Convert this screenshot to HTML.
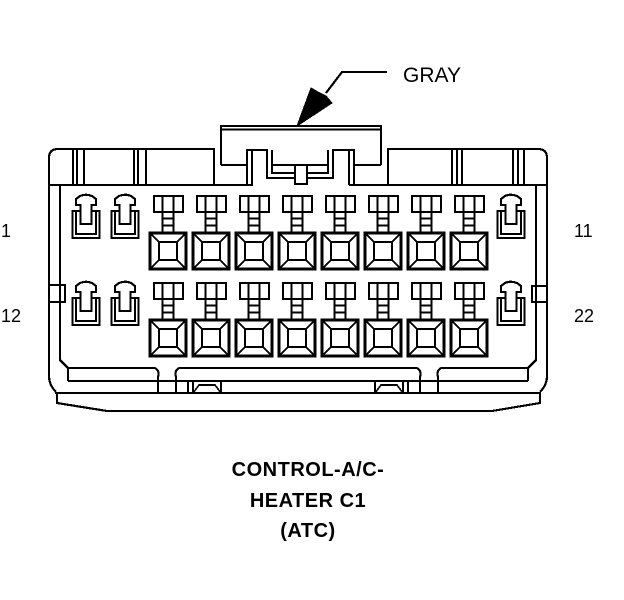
<!DOCTYPE html>
<html><head><meta charset="utf-8"><style>
html,body{margin:0;padding:0;background:#fff;}
svg{display:block;}
text{font-family:"Liberation Sans",Arial,sans-serif;fill:#000;}
</style></head><body>
<svg width="624" height="600" viewBox="0 0 624 600" xmlns="http://www.w3.org/2000/svg">
<defs>
<g id="t" fill="#fff" stroke="#000" shape-rendering="crispEdges">
  <rect x="4" y="-37" width="29" height="16" stroke-width="2.2"/>
  <rect x="12.5" y="-21" width="11" height="21" stroke-width="2.2"/>
  <line x1="12.5" y1="-37" x2="12.5" y2="-21" stroke-width="2"/>
  <line x1="23.5" y1="-37" x2="23.5" y2="-21" stroke-width="2"/>
  <line x1="12.5" y1="-14.5" x2="23.5" y2="-14.5" stroke-width="2"/>
  <line x1="12.5" y1="-7.5" x2="23.5" y2="-7.5" stroke-width="2"/>
  <rect x="0" y="0" width="36" height="36" stroke-width="3"/>
  <rect x="9" y="9" width="18" height="18" stroke-width="2.2"/>
  <path d="M0,0 L9,9 M36,0 L27,9 M0,36 L9,27 M36,36 L27,27" stroke-width="1.6" fill="none"/>
</g>
<g id="l" fill="none" stroke="#000" shape-rendering="crispEdges">
  <path d="M-5.5,16 L-13.5,16 L-13.5,43 L13.5,43 L13.5,16 L5.5,16" stroke-width="2.4"/>
  <path d="M-10,16 L-10,39 L10,39 L10,16" stroke-width="1.6"/>
  <path d="M-5.5,29 L-5.5,10 L-10,10 L-10,4 L-6,1 Q0,-1.5 6,1 L10,4 L10,10 L5.5,10 L5.5,29 Z" stroke-width="2.2" fill="#fff"/>
</g>
</defs>

<g fill="none" stroke="#000" stroke-width="2.2" shape-rendering="crispEdges">
  <!-- arrow leader -->
  <path d="M387,72 L342,72 L326,93"/>
  <polygon points="297,126 311,88 318,92 326,96 332,103" fill="#000" stroke="#000" stroke-width="1"/>

  <!-- top housing -->
  <path d="M221,165 L221,126 L381,126 L381,165"/>
  <line x1="221" y1="129.5" x2="381" y2="129.5" stroke-width="1.6"/>
  <line x1="221" y1="165" x2="247" y2="165"/>
  <line x1="353" y1="165" x2="381" y2="165"/>
  <path d="M247,185 L247,150 L267,150 L267,178 L295,178"/>
  <line x1="252" y1="150" x2="252" y2="185" stroke-width="1.6"/>
  <path d="M272,150 L272,173 L295,173" stroke-width="1.6"/>
  <path d="M307,178 L333,178 L333,150 L354,150 L354,185"/>
  <path d="M307,173 L328,173 L328,150" stroke-width="1.6"/>
  <line x1="349" y1="150" x2="349" y2="185" stroke-width="1.6"/>
  <line x1="272" y1="165" x2="295" y2="165" stroke-width="1.6"/>
  <line x1="307" y1="165" x2="328" y2="165" stroke-width="1.6"/>
  <rect x="295" y="165" width="12" height="19"/>

  <!-- left band -->
  <path d="M49,185 L49,158 Q49,149 58,149 L214,149 L214,185"/>
  <line x1="49" y1="185" x2="253" y2="185"/>
  <path d="M73,149 V185 M77,149 V185 M134,149 V185 M138,149 V185" stroke-width="1.6"/>
  <path d="M84,149 V185 M146,149 V185"/>
  <!-- right band -->
  <path d="M388,185 L388,149 L538,149 Q547,149 547,158 L547,185"/>
  <line x1="349" y1="185" x2="547" y2="185"/>
  <path d="M452,149 V185 M457,149 V185 M513,149 V185 M518,149 V185" stroke-width="1.6"/>
  <path d="M462,149 V185 M524,149 V185"/>

  <!-- sides -->
  <path d="M49,185 L49,376 Q49,385 56,392"/>
  <path d="M547,185 L547,376 Q547,385 540,392"/>
  <path d="M60,185 L60,360 L68,368 L155,368"/>
  <path d="M536,185 L536,360 L528,368 L441,368"/>
  <line x1="179" y1="368" x2="417" y2="368"/>
  <line x1="68" y1="368" x2="68" y2="381"/>
  <line x1="528" y1="368" x2="528" y2="381"/>
  <line x1="68" y1="381" x2="528" y2="381"/>
  <line x1="55" y1="393" x2="541" y2="393"/>
  <path d="M57,393 L57,403 L107,411 L492,411 L540,403 L540,393"/>
  <!-- side tabs -->
  <path d="M49,285 L65,285 L65,302 L49,302"/>
  <path d="M547,286 L532,286 L532,302 L547,302"/>
  <!-- notches -->
  <path d="M155,368 Q160,371 158,377 L158,393"/>
  <path d="M179,368 Q174,371 176,377 L176,393"/>
  <path d="M417,368 Q422,371 420,377 L420,393"/>
  <path d="M441,368 Q436,371 438,377 L438,393"/>
  <!-- feet -->
  <path d="M188,381 L188,393 M193,381 L193,393 M221,381 L221,393"/>
  <path d="M193,393 L199,385 L215,385 L221,393" stroke-width="1.6"/>
  <path d="M408,381 L408,393 M403,381 L403,393 M375,381 L375,393"/>
  <path d="M403,393 L397,385 L381,385 L375,393" stroke-width="1.6"/>
</g>

<!-- latch terminals -->
<use href="#l" x="86" y="195"/>
<use href="#l" x="125" y="195"/>
<use href="#l" x="511" y="195"/>
<use href="#l" x="86" y="282"/>
<use href="#l" x="125" y="282"/>
<use href="#l" x="511" y="282"/>

<!-- T terminals row 1 -->
<use href="#t" x="150" y="233"/>
<use href="#t" x="193" y="233"/>
<use href="#t" x="236" y="233"/>
<use href="#t" x="279" y="233"/>
<use href="#t" x="322" y="233"/>
<use href="#t" x="365" y="233"/>
<use href="#t" x="408" y="233"/>
<use href="#t" x="451" y="233"/>
<!-- row 2 -->
<use href="#t" x="150" y="320"/>
<use href="#t" x="193" y="320"/>
<use href="#t" x="236" y="320"/>
<use href="#t" x="279" y="320"/>
<use href="#t" x="322" y="320"/>
<use href="#t" x="365" y="320"/>
<use href="#t" x="408" y="320"/>
<use href="#t" x="451" y="320"/>

<!-- labels -->
<text x="403" y="82" font-size="21">GRAY</text>
<text x="1" y="237" font-size="18">1</text>
<text x="574" y="237" font-size="18">11</text>
<text x="1" y="322" font-size="18">12</text>
<text x="574" y="322" font-size="18">22</text>

<g font-size="20" font-weight="bold" text-anchor="middle" letter-spacing="0.5">
<text x="308" y="476">CONTROL-A/C-</text>
<text x="308" y="507">HEATER C1</text>
<text x="308" y="537">(ATC)</text>
</g>
</svg>
</body></html>
